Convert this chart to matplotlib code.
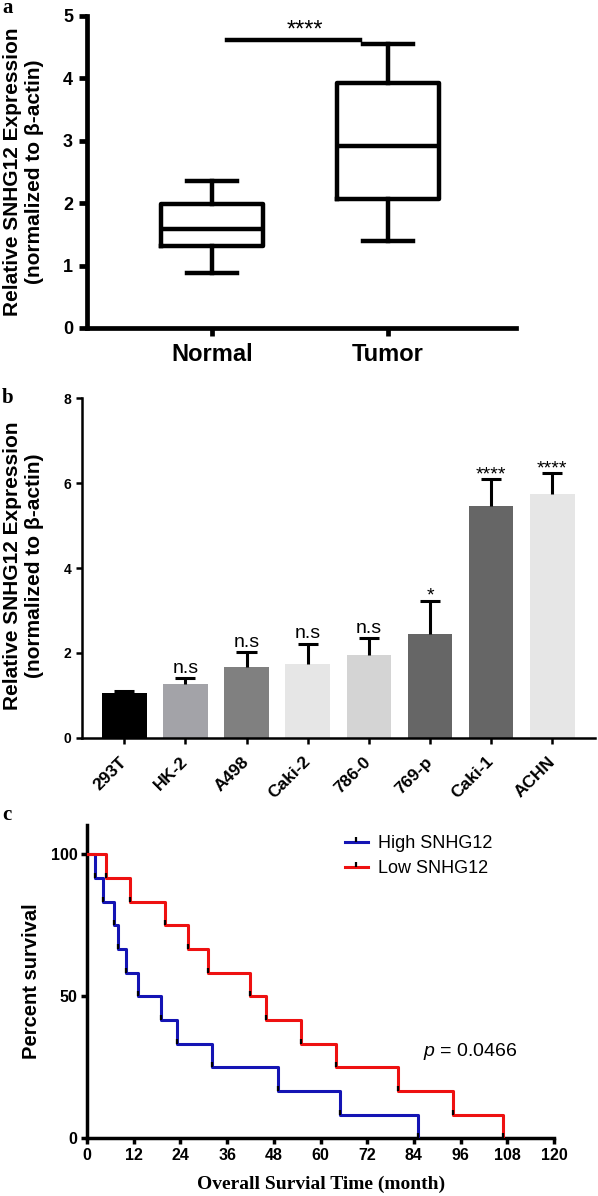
import matplotlib
matplotlib.use('Agg')
import matplotlib.pyplot as plt
from matplotlib.path import Path
from matplotlib.lines import Line2D
import numpy as np

plt.rcParams['font.family'] = ['Liberation Sans', 'DejaVu Sans']
plt.rcParams['mathtext.fontset'] = 'custom'
plt.rcParams['mathtext.rm'] = 'Liberation Sans'
plt.rcParams['mathtext.it'] = 'Liberation Sans:italic'

# ---------------- data ----------------
# panel a: box plot
box_groups = ['Normal', 'Tumor']
box_whislo = [0.88, 1.39]
box_q1 = [1.31, 2.07]
box_med = [1.58, 2.91]
box_q3 = [1.99, 3.92]
box_whishi = [2.35, 4.55]
box_sig_text = '****'
box_sig_level = 4.62

# panel b: bar chart
cell_lines = ['293T', 'HK-2', 'A498', 'Caki-2', '786-0', '769-p', 'Caki-1', 'ACHN']
expr_mean = [1.05, 1.26, 1.67, 1.74, 1.94, 2.44, 5.45, 5.74]
expr_sd = [0.06, 0.14, 0.34, 0.48, 0.40, 0.79, 0.64, 0.49]
expr_sig = ['', 'n.s', 'n.s', 'n.s', 'n.s', '*', '****', '****']
bar_colors = ['#000000', '#a3a3a8', '#808080', '#e6e6e6', '#d4d4d4', '#666666', '#666666', '#e6e6e6']

# panel c: Kaplan-Meier
km_months_high = [0, 2, 4, 7, 8, 10, 13, 19, 23, 32, 49, 65, 85]
km_months_low = [0, 5, 11, 20, 26, 31, 42, 46, 55, 64, 80, 94, 107]
km_surv = [100, 91.7, 83.3, 75, 66.7, 58.3, 50, 41.7, 33.3, 25, 16.7, 8.3, 0]
km_labels = ['High SNHG12', 'Low SNHG12']
km_colors = ['#1414b4', '#ee1111']
p_text = r'$\it{p}$ = 0.0466'

ylabel_expr = 'Relative SNHG12 Expression\n(normalized to \u03b2-actin)'

# ---------------- figure ----------------
W, H = 598, 1196
fig = plt.figure(figsize=(W / 100, H / 100), dpi=100)


def rect(l, r, t, b):
    return [l / W, 1 - b / H, (r - l) / W, (b - t) / H]


# ---------- panel a ----------
axa = fig.add_axes(rect(87, 516, 16, 328))
lw_a = 3.2
stats = [dict(label=g, whislo=lo, q1=a, med=m, q3=b, whishi=hi, fliers=[])
         for g, lo, a, m, b, hi in zip(box_groups, box_whislo, box_q1, box_med, box_q3, box_whishi)]
kw = dict(lw=lw_a, color='k', solid_capstyle='projecting')
axa.bxp(stats, positions=[0, 1], widths=0.58, capwidths=0.28, showfliers=False,
        boxprops=dict(lw=lw_a, color='k'), whiskerprops=kw, capprops=kw,
        medianprops=dict(lw=lw_a, color='k'))
axa.set_xlim(-0.71, 1.727)
axa.set_ylim(0, 5)
axa.set_yticks(range(0, 6))
axa.set_xticks([0, 1], box_groups)
for s in ['top', 'right']:
    axa.spines[s].set_visible(False)
for s in ['left', 'bottom']:
    axa.spines[s].set_linewidth(3.4)
axa.tick_params(axis='both', width=3.4, length=6)
axa.tick_params(axis='y', labelsize=13, pad=4)
axa.tick_params(axis='x', labelsize=17, pad=5)
for t in axa.get_xticklabels() + axa.get_yticklabels():
    t.set_fontweight('bold')
axa.plot([0.085, 0.84], [box_sig_level, box_sig_level], color='k', lw=lw_a, clip_on=False)
axa.text(0.53, box_sig_level + 0.05, box_sig_text, ha='center', va='baseline', fontsize=17,
         clip_on=False)
fig.text(24 / W, 1 - 172 / H, ylabel_expr, rotation=90, ha='center', va='center',
         fontsize=15, fontweight='bold', multialignment='center')

# ---------- panel b ----------
axb = fig.add_axes(rect(82, 594.5, 398.3, 737.7))
x = np.arange(len(cell_lines))
axb.bar(x, expr_mean, width=0.73, color=bar_colors, zorder=2)
tops = np.array(expr_mean) + np.array(expr_sd)
axb.vlines(x, expr_mean, tops, color='k', lw=2.2, zorder=3)
axb.hlines(tops, x - 0.165, x + 0.165, color='k', lw=2.2, zorder=3)
for xi, top, s in zip(x, tops, expr_sig):
    if not s:
        continue
    if s.startswith('*'):
        axb.text(xi, top + 0.0, s, ha='center', va='baseline', fontsize=14)
    else:
        axb.text(xi, top + 0.13, s, ha='center', va='baseline', fontsize=14)
axb.set_xlim(-0.69, 7.69)
axb.set_ylim(0, 8)
axb.set_yticks([0, 2, 4, 6, 8])
axb.set_xticks(x, cell_lines, rotation=45, ha='right', va='center', rotation_mode='anchor')
for s in ['top', 'right']:
    axb.spines[s].set_visible(False)
for s in ['left', 'bottom']:
    axb.spines[s].set_linewidth(1.8)
axb.tick_params(axis='both', width=1.8, length=4.5)
axb.tick_params(axis='y', labelsize=10, pad=3)
axb.tick_params(axis='x', labelsize=12.5, pad=11)
for t in axb.get_xticklabels() + axb.get_yticklabels():
    t.set_fontweight('bold')
fig.text(24 / W, 1 - 566 / H, ylabel_expr, rotation=90, ha='center', va='center',
         fontsize=15, fontweight='bold', multialignment='center')

# ---------- panel c ----------
axc = fig.add_axes(rect(87, 554, 825, 1138.3))
tick_path = Path([(0, 0), (0, 1)], [Path.MOVETO, Path.LINETO])
handles = []
for months, col, lab in zip([km_months_high, km_months_low], km_colors, km_labels):
    axc.step(months, km_surv, where='post', color=col, lw=2.2, zorder=3)
    axc.plot(months[1:], km_surv[1:], ls='none', marker=tick_path, ms=7, mec='k', mew=1.6,
             zorder=4)
    handles.append(Line2D([0], [0], color=col, lw=2.2, marker=tick_path, ms=7, mec='k', mew=1.6,
                          label=lab))
axc.set_xlim(0, 120)
axc.set_ylim(0, 110.3)
axc.set_xticks(range(0, 121, 12))
axc.set_yticks([0, 50, 100])
for s in ['top', 'right']:
    axc.spines[s].set_visible(False)
for s in ['left', 'bottom']:
    axc.spines[s].set_linewidth(2.5)
axc.tick_params(axis='both', width=2.5, length=4, labelsize=11.5)
axc.tick_params(axis='x', pad=3)
axc.tick_params(axis='y', pad=3)
for t in axc.get_xticklabels() + axc.get_yticklabels():
    t.set_fontweight('bold')
leg = axc.legend(handles=handles, loc='upper left', bbox_to_anchor=(0.5525, 0.968),
                 frameon=False, fontsize=13, handlelength=1.25, handletextpad=0.6,
                 labelspacing=0.45, borderpad=0, borderaxespad=0)
axc.text(98.4, 30.4, p_text, ha='center', va='center', fontsize=14)
fig.text(31.5 / W, 1 - 981 / H, 'Percent survival', rotation=90, ha='center', va='center',
         fontsize=14.5, fontweight='bold')
fig.text(321 / W, 1 - 1184 / H, 'Overall Survial Time (month)', ha='center', va='center',
         fontsize=14, fontweight='bold', family='Liberation Serif')

# ---------- panel letters ----------
for letter, base in [('a', 13), ('b', 403), ('c', 820)]:
    fig.text(2 / W, 1 - base / H, letter, ha='left', va='baseline', fontsize=15,
             fontweight='bold', family='Liberation Serif')

fig.savefig('out.png', dpi=100)
